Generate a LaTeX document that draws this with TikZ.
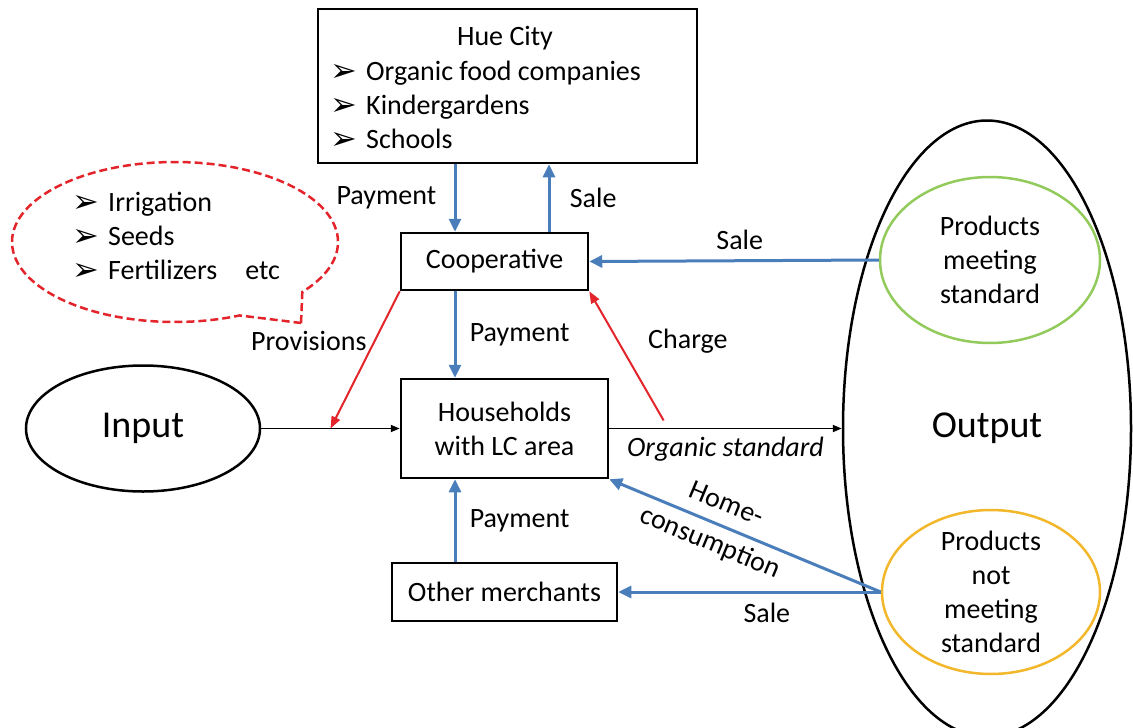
\documentclass[tikz,border=0pt]{standalone}
\usepackage{fontspec}
\setmainfont{Carlito}
\newfontfamily\symfont{DejaVu Sans}
\usetikzlibrary{shapes.geometric,shapes.callouts,arrows.meta,calc}
\definecolor{c1}{HTML}{4A7EBB}
\definecolor{c2}{HTML}{E3242B}
\definecolor{c3}{HTML}{92CB5C}
\definecolor{c4}{HTML}{F2B72A}
\newcommand{\bul}{\makebox[36pt][l]{\raisebox{-1pt}{\fontsize{32}{32}\symfont ➢}}}

\begin{document}
\begin{tikzpicture}[x=1pt, y=-1pt, font=\fontsize{28}{34}\selectfont,
    box/.style={draw, line width=2.5pt, inner sep=0pt},
    oval/.style={draw, ellipse, line width=2.5pt, inner sep=0pt},
    lbl/.style={text=black},
    flow/.style={c1, line width=3pt, -{Triangle[length=13pt,width=12pt]}},
    supply/.style={c2, line width=2pt, -{Triangle[length=12pt,width=9pt]}},
    main/.style={line width=1.8pt, -{Triangle[length=9pt,width=7pt]}}]
    \useasboundingbox (0,0) rectangle (1133,728);

    % buyers in town
    \node[box, minimum width=379pt, minimum height=154pt] (hue) at (507.5,86) {};
    \node (huetitle) at (505,38) {Hue City};
    \node[anchor=west, align=left, inner sep=0pt] (huelist) at (330,105.5) {\bul Organic food companies\\ \bul Kindergardens\\ \bul Schools};

    % what the cooperative provides
    \node[ellipse callout, draw=c2, line width=2.5pt, dash pattern=on 8pt off 4pt, minimum width=326pt, minimum height=160pt,
        callout absolute pointer={(301,323)}, callout pointer arc=28] (need) at (175,242) {};
    \node[anchor=west, align=left, inner sep=0pt] (needlist) at (72,236) {\bul Irrigation\\ \bul Seeds\\ \bul Fertilizers\quad etc};

    \node[box, minimum width=187pt, minimum height=57pt] (coop) at (494.5,261.5) {Cooperative};
    \node[box, minimum width=207pt, minimum height=99pt, align=center] (hh) at (504.5,428.5) {Households\\with LC area};
    \node[box, minimum width=225pt, minimum height=58pt] (om) at (504.5,592) {Other merchants};

    \node[oval, minimum width=234pt, minimum height=126pt, font=\fontsize{38}{44}\selectfont] (inp) at (143,428.5) {Input};
    \node[oval, minimum width=288pt, minimum height=616pt, font=\fontsize{38}{44}\selectfont] (out) at (987,428.5) {Output};
    \node[oval, draw=c3, minimum width=220pt, minimum height=166pt] (good) at (990,260) {};
    \node[align=center] (goodtxt) at (good) {Products\\meeting\\standard};
    \node[oval, draw=c4, minimum width=218pt, minimum height=164pt] (bad) at (991,592) {};
    \node[align=center] (badtxt) at (bad) {Products\\not\\meeting\\standard};

    \coordinate (prov) at ($(inp.east)!0.5!(hh.west)$);
    \coordinate (chg) at ($(hh.east)!0.234!(out.west)$);

    % production line
    \draw[main] (inp.east) -- (hh.west);
    \draw[main] (hh.east) -- (out.west) node[midway, below=4pt, font=\fontsize{28}{34}\selectfont\itshape] (lorg) {Organic standard};

    % money and products
    \draw[flow] ([xshift=-52.5pt]hue.south) -- ([xshift=-39.5pt]coop.north) node[lbl, midway, left=14pt] (lpay1) {Payment};
    \draw[flow] ([xshift=54.5pt]coop.north) -- ([xshift=41.5pt]hue.south) node[lbl, midway, right=16pt] (lsale1) {Sale};
    \draw[flow] (good.west) -- (coop.east) node[lbl, pos=0.48, above=6pt] (lsale2) {Sale};
    \draw[flow] ([xshift=-39.5pt]coop.south) -- ([xshift=-49.5pt]hh.north) node[lbl, midway, right=10pt] (lpay2) {Payment};
    \draw[flow] ([xshift=-49.5pt]om.north) -- ([xshift=-49.5pt]hh.south) node[lbl, midway, right=10pt] (lpay3) {Payment};
    \draw[flow] (bad.west) -- (om.east) node[lbl, pos=0.434, below=6pt] (lsale3) {Sale};
    \draw[flow] (bad.west) -- (hh.south east) node[lbl, pos=0.6, rotate=-22.7, align=center, inner sep=0pt] (lhome) {Home-\\[8pt]consumption};

    % provisions and charge
    \draw[supply] (coop.south west) -- (prov) node[lbl, pos=0.36, anchor=east, xshift=-4pt] (lprov) {Provisions};
    \draw[supply] ([yshift=8pt]chg) -- (coop.south east) node[lbl, pos=0.615, anchor=west, xshift=26pt] (lchg) {Charge};
\end{tikzpicture}
\end{document}
